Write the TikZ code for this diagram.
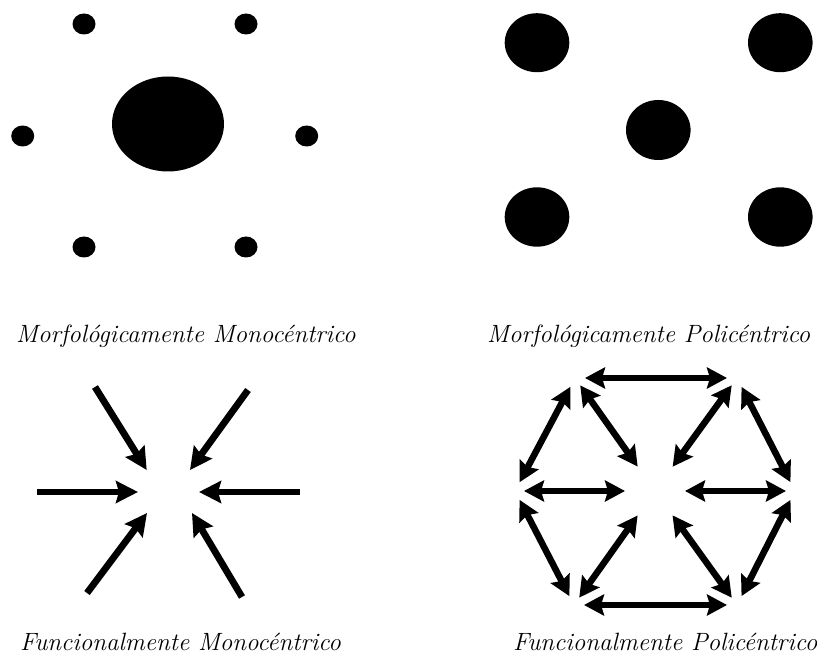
\documentclass[tikz,border=0pt]{standalone}
\usetikzlibrary{arrows.meta}
\begin{document}
\begin{tikzpicture}[x=1pt,y=-1pt,
  blob/.style={fill=black},
  lbl/.style={anchor=base west,inner sep=0pt,font=\fontsize{25}{30}\selectfont\itshape},
  inarr/.style={line width=6.8pt,-{Stealth[length=22pt,width=22pt,inset=3pt]}},
  biarr/.style={line width=6.5pt,{Stealth[length=20pt,width=21pt,inset=3pt]}-{Stealth[length=20pt,width=21pt,inset=3pt]}},
  outer/.style={biarr,shorten <=10pt,shorten >=10pt},
  inner/.style={biarr,shorten <=9pt,shorten >=30pt}]
\useasboundingbox (0,0) rectangle (817,660);
% top-left: morphologically monocentric
\fill[blob] (168,124) ellipse [x radius=56, y radius=47.5];
\fill[blob] (84,24) ellipse [x radius=11.5, y radius=10.5];
\fill[blob] (246,24) ellipse [x radius=11.5, y radius=10.5];
\fill[blob] (22.7,136) ellipse [x radius=11.5, y radius=10.5];
\fill[blob] (306.7,136) ellipse [x radius=11.5, y radius=10.5];
\fill[blob] (84,247) ellipse [x radius=11.5, y radius=10.5];
\fill[blob] (246,247) ellipse [x radius=11.5, y radius=10.5];
% top-right: morphologically polycentric
\fill[blob] (537,42.7) ellipse [x radius=32.3, y radius=29.5];
\fill[blob] (780.3,42.7) ellipse [x radius=32.3, y radius=29.5];
\fill[blob] (658.3,130) ellipse [x radius=32.3, y radius=30];
\fill[blob] (537,217) ellipse [x radius=32.3, y radius=29.7];
\fill[blob] (780.3,217) ellipse [x radius=32.3, y radius=29.7];
% labels
\node[lbl] (l1) at (16,343) {Morfológicamente Monocéntrico};
\node[lbl] (l2) at (487,343) {Morfológicamente Policéntrico};
\node[lbl] (l3) at (20,650) {Funcionalmente Monocéntrico};
\node[lbl] (l4) at (513,650) {Funcionalmente Policéntrico};
% bottom-left: functionally monocentric
\coordinate (t1) at (95,387);   \coordinate (h1) at (146.7,470);
\coordinate (t2) at (248,390);  \coordinate (h2) at (190,470);
\coordinate (t3) at (37,492);   \coordinate (h3) at (138,492);
\coordinate (t4) at (300,492);  \coordinate (h4) at (199,492);
\coordinate (t5) at (87,593);   \coordinate (h5) at (147,513);
\coordinate (t6) at (242,597);  \coordinate (h6) at (192,513);
\foreach \i in {1,...,6} {\draw[inarr] (t\i) -- (h\i);}
% bottom-right: functionally polycentric
\coordinate (TL) at (575,378);
\coordinate (TR) at (737,378);
\coordinate (L) at (515,491);
\coordinate (R) at (795,491);
\coordinate (BL) at (574,605);
\coordinate (BR) at (737,605);
\coordinate (C) at (655,491);
\draw[outer] (TL) -- (TR);
\draw[outer] (BL) -- (BR);
\draw[outer] (TL) -- (L);
\draw[outer] (L) -- (BL);
\draw[outer] (TR) -- (R);
\draw[outer] (R) -- (BR);
\foreach \v in {TL,TR,L,R,BL,BR} {\draw[inner] (\v) -- (C);}
\end{tikzpicture}
\end{document}
